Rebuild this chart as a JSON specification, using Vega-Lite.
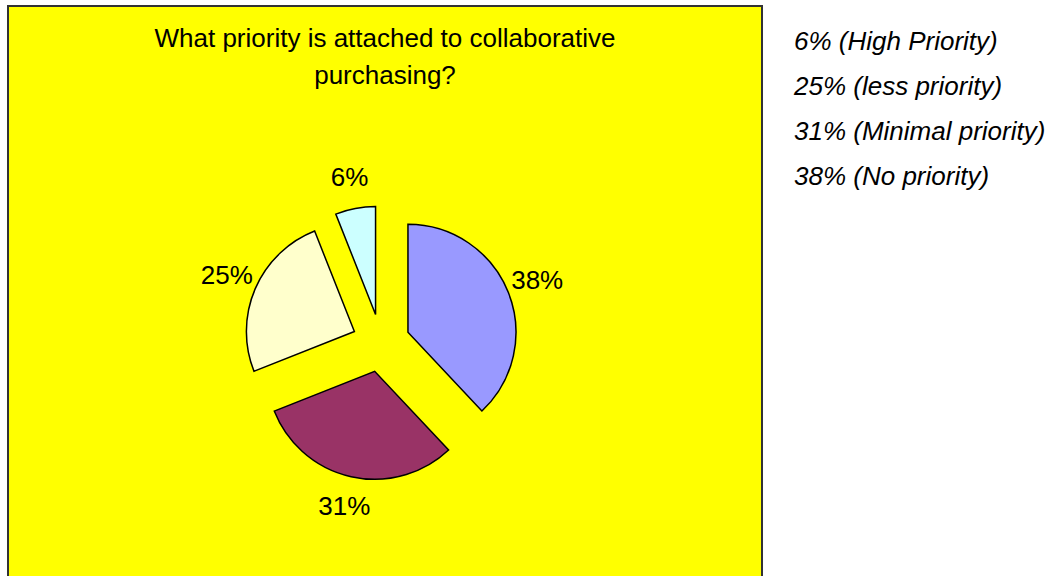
{
  "$schema": "https://vega.github.io/schema/vega-lite/v6.json",
  "width": 754,
  "height": 573,
  "autosize": {"type": "none"},
  "padding": {"left": 8, "top": 6, "right": 297, "bottom": -3},
  "background": "#FFFFFF",
  "config": {
    "view": {"fill": "#FFFF00", "stroke": "#333333", "strokeWidth": 2},
    "font": "Liberation Sans"
  },
  "title": {
    "text": ["What priority is attached to collaborative", "purchasing?"],
    "fontSize": 26,
    "fontWeight": "normal",
    "font": "Liberation Sans",
    "color": "#000000",
    "anchor": "middle",
    "frame": "group",
    "baseline": "top",
    "lineHeight": 37,
    "offset": -83
  },
  "data": {
    "values": [
      {"label": "38% (No priority)", "value": 38, "pct": "38%"},
      {"label": "31% (Minimal priority)", "value": 31, "pct": "31%"},
      {"label": "25% (less priority)", "value": 25, "pct": "25%"},
      {"label": "6% (High Priority)", "value": 6, "pct": "6%"}
    ]
  },
  "transform": [
    {"joinaggregate": [{"op": "sum", "field": "value", "as": "total"}]},
    {"window": [{"op": "sum", "field": "value", "as": "cum"}], "sort": [{"field": "value", "order": "descending"}], "frame": [null, 0]},
    {"calculate": "(datum.cum - datum.value / 2) / datum.total * 2 * PI", "as": "mid"},
    {"calculate": "29 * sin(datum.mid)", "as": "ex"},
    {"calculate": "29 * cos(datum.mid)", "as": "ey"}
  ],
  "layer": [
    {
      "mark": {"type": "arc", "radius": 108, "stroke": "#000000", "strokeWidth": 1.5},
      "encoding": {
        "theta": {"field": "value", "type": "quantitative", "stack": true},
        "order": {"field": "value", "sort": "descending"},
        "x": {"field": "ex", "type": "quantitative", "stack": null, "scale": {"domain": [-373, 381], "nice": false, "zero": false}, "axis": null},
        "y": {"field": "ey", "type": "quantitative", "stack": null, "scale": {"domain": [-236, 337], "nice": false, "zero": false}, "axis": null},
        "color": {
          "field": "label",
          "type": "nominal",
          "scale": {
            "domain": ["6% (High Priority)", "25% (less priority)", "31% (Minimal priority)", "38% (No priority)"],
            "range": ["#CCFFFF", "#FFFFCC", "#993366", "#9999FF"]
          },
          "legend": {
            "orient": "none",
            "legendX": 760,
            "legendY": 23,
            "title": null,
            "padding": 0,
            "symbolSize": 0,
            "symbolOpacity": 0,
            "symbolStrokeWidth": 0,
            "labelOffset": 0,
            "labelFontSize": 26,
            "labelFont": "Liberation Sans",
            "labelFontStyle": "italic",
            "labelColor": "#000000",
            "labelLimit": 400,
            "labelBaseline": "middle",
            "rowPadding": 19
          }
        }
      }
    },
    {
      "mark": {"type": "text", "radius": 168, "fontSize": 26, "font": "Liberation Sans", "color": "#000000"},
      "encoding": {
        "theta": {"field": "value", "type": "quantitative", "stack": true},
        "order": {"field": "value", "sort": "descending"},
        "x": {"datum": 0, "type": "quantitative"},
        "y": {"datum": 0, "type": "quantitative"},
        "text": {"field": "pct", "type": "nominal"}
      }
    }
  ]
}
